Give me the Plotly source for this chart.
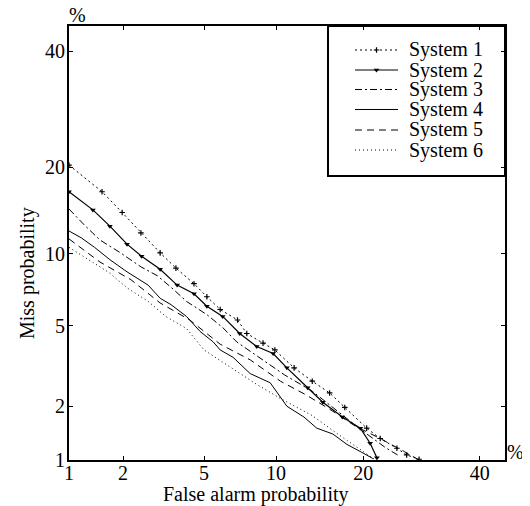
from statistics import NormalDist
import plotly.graph_objects as go

# ---------------- data (percent) ----------------
tick_pcts = [1, 2, 5, 10, 20, 40]
tick_labels = ["1", "2", "5", "10", "20", "40"]
axis_min_pct, axis_max_pct = 1, 45

names = ["System 1", "System 2", "System 3", "System 4", "System 5", "System 6"]

sys1_fa = [1.0, 1.54, 1.98, 2.48, 3.1, 3.7, 4.5, 5.15, 5.9, 7.0, 7.65, 8.9, 9.9, 11.7, 13.6, 15.6, 17.5, 20.5, 22.5, 25.1, 26.7, 28.8]
sys1_miss = [20.3, 16.7, 14.2, 12.0, 10.1, 8.8, 7.6, 6.7, 5.9, 5.3, 4.6, 4.15, 3.85, 3.15, 2.7, 2.35, 1.97, 1.52, 1.33, 1.17, 1.07, 1.01]

sys2_fa = [1.0, 1.37, 1.7, 2.1, 2.5, 3.1, 3.75, 4.5, 5.15, 6.05, 7.15, 8.4, 9.75, 11.0, 13.1, 14.8, 17.2, 19.6, 21.0, 22.0]
sys2_miss = [16.7, 14.5, 12.7, 10.9, 9.8, 8.7, 7.5, 6.9, 6.1, 5.5, 4.6, 4.0, 3.7, 3.15, 2.5, 2.1, 1.75, 1.52, 1.25, 1.03]

sys3_fa = [1.0, 1.23, 1.5, 1.94, 2.48, 3.0, 3.6, 4.15, 5.15, 6.05, 6.95, 8.7, 10.8, 13.6, 16.2, 19.6, 23.3, 25.6]
sys3_miss = [14.6, 12.8, 11.3, 10.1, 8.9, 8.2, 7.2, 6.4, 5.6, 4.9, 4.2, 3.5, 2.9, 2.4, 1.93, 1.5, 1.18, 1.05]

sys4_fa = [1.0, 1.18, 1.4, 1.7, 2.1, 2.7, 3.1, 3.5, 4.15, 4.8, 5.5, 5.9, 6.7, 7.9, 9.5, 11.0, 12.7, 14.1, 16.0, 17.8, 19.6, 21.4]
sys4_miss = [12.2, 11.5, 10.6, 9.5, 8.5, 7.5, 6.6, 6.2, 5.5, 4.7, 4.2, 3.85, 3.55, 2.95, 2.65, 2.0, 1.75, 1.52, 1.41, 1.23, 1.12, 1.02]

sys5_fa = [1.0, 1.5, 2.2, 3.1, 4.3, 5.9, 7.9, 10.4, 12.9, 15.6, 18.9, 22.5, 26.3, 28.8]
sys5_miss = [11.4, 9.3, 7.9, 6.3, 5.3, 4.1, 3.45, 2.7, 2.3, 1.93, 1.56, 1.33, 1.12, 1.0]

sys6_fa = [1.0, 1.3, 1.7, 2.1, 2.7, 3.3, 4.15, 5.0, 6.5, 8.4, 10.4, 13.6, 16.9, 20.0, 21.8]
sys6_miss = [10.6, 9.5, 8.4, 7.3, 6.4, 5.5, 4.85, 3.85, 3.2, 2.6, 2.2, 1.78, 1.38, 1.12, 1.0]

# ---------------- helpers ----------------
nd = NormalDist()


def probit(pcts):
    return [nd.inv_cdf(p / 100.0) for p in pcts]


FONT = "Liberation Serif"
PAGE_MARGIN = 8                      # default <body> margin of the html page
W, H = 530 - PAGE_MARGIN, 506 - PAGE_MARGIN
L, T = 69 - PAGE_MARGIN, 26 - PAGE_MARGIN
PW, PH = 436, 434                    # plot area: x 69..505, y 26..460 on the page
R, B = W - L - PW, H - T - PH


def px(x):
    """page x pixel -> paper coordinate"""
    return (x - 69) / PW


def py(y):
    """page y pixel -> paper coordinate"""
    return (460 - y) / PH


series = [
    (sys1_fa, sys1_miss, dict(color="black", width=1, dash="2px,3px"),
     dict(symbol="cross-thin", size=4, line=dict(color="black", width=1.2))),
    (sys2_fa, sys2_miss, dict(color="black", width=1.2, dash="solid"),
     dict(symbol="triangle-down", size=5, color="black")),
    (sys3_fa, sys3_miss, dict(color="black", width=1, dash="7px,3px,2px,3px"), None),
    (sys4_fa, sys4_miss, dict(color="black", width=1, dash="solid"), None),
    (sys5_fa, sys5_miss, dict(color="black", width=1, dash="7px,5px"), None),
    (sys6_fa, sys6_miss, dict(color="black", width=1, dash="1px,3px"), None),
]

fig = go.Figure()
for (fa, miss, line, marker), name in zip(series, names):
    fig.add_trace(go.Scatter(
        x=probit(fa), y=probit(miss), name=name,
        mode="lines+markers" if marker else "lines",
        line=line, marker=marker, showlegend=False,
    ))

# ---------------- manual legend (MATLAB style) ----------------
row_y = [50, 70, 89.5, 109.5, 130, 150]
for (fa, miss, line, marker), name, ry in zip(series, names, row_y):
    fig.add_trace(go.Scatter(
        x=[px(355), px(398)], y=[py(ry), py(ry)], xaxis="x2", yaxis="y2",
        mode="lines", line=line, showlegend=False, hoverinfo="skip",
    ))
    if marker:
        fig.add_trace(go.Scatter(
            x=[px(376.5)], y=[py(ry)], xaxis="x2", yaxis="y2",
            mode="markers", marker=marker, showlegend=False, hoverinfo="skip",
        ))
    fig.add_annotation(text=name, x=px(407), y=py(ry), xref="paper", yref="paper",
                       xanchor="left", yanchor="middle", showarrow=False,
                       font=dict(family=FONT, size=20, color="black"))

fig.add_shape(type="rect", xref="paper", yref="paper",
              x0=px(328), x1=1, y0=py(176), y1=1,
              line=dict(color="black", width=2), fillcolor="rgba(0,0,0,0)")

# ---------------- titles and % signs ----------------
fig.add_annotation(text="False alarm probability", x=px(256), y=py(494),
                   xref="paper", yref="paper", showarrow=False,
                   xanchor="center", yanchor="middle",
                   font=dict(family=FONT, size=20, color="black"))
fig.add_annotation(text="Miss probability", x=px(27), y=py(273),
                   xref="paper", yref="paper", showarrow=False, textangle=-90,
                   xanchor="center", yanchor="middle",
                   font=dict(family=FONT, size=20, color="black"))
fig.add_annotation(text="%", x=px(77), y=py(15), xref="paper", yref="paper",
                   showarrow=False, xanchor="center", yanchor="middle",
                   font=dict(family=FONT, size=20, color="black"))
fig.add_annotation(text="%", x=px(516), y=py(452), xref="paper", yref="paper",
                   showarrow=False, xanchor="center", yanchor="middle",
                   font=dict(family=FONT, size=20, color="black"))

rng = probit([axis_min_pct, axis_max_pct])
axis_common = dict(
    range=rng, tickvals=probit(tick_pcts), ticktext=tick_labels,
    ticks="inside", ticklen=4, tickwidth=1, tickcolor="black",
    showline=True, linewidth=2, linecolor="black", mirror="ticks",
    showgrid=False, zeroline=False,
    tickfont=dict(family=FONT, size=20, color="black"),
)

fig.update_layout(
    width=W, height=H,
    margin=dict(l=L, r=R, t=T, b=B, pad=0),
    paper_bgcolor="white", plot_bgcolor="white",
    xaxis=dict(**axis_common, ticklabelstandoff=-6),
    yaxis=dict(**axis_common, ticklabelstandoff=-2),
    xaxis2=dict(overlaying="x", range=[0, 1], domain=[0, 1], visible=False, fixedrange=True),
    yaxis2=dict(overlaying="y", range=[0, 1], domain=[0, 1], visible=False, fixedrange=True),
    showlegend=False,
    font=dict(family=FONT, size=20, color="black"),
)

fig.write_html("out.html")
